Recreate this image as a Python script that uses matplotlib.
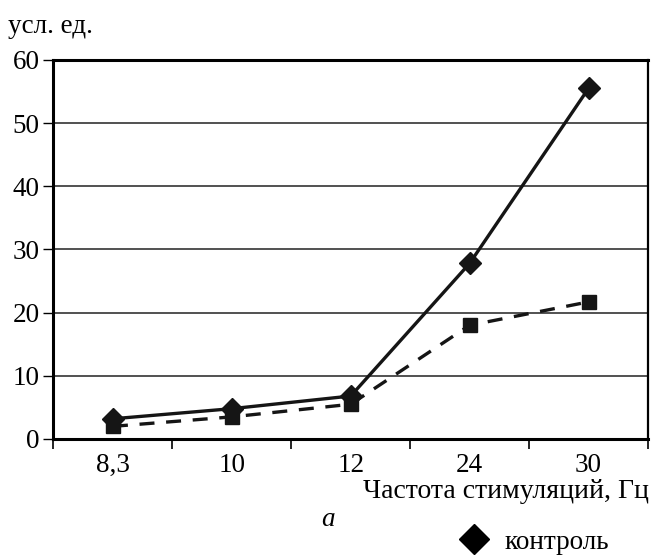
import numpy as np
import matplotlib.pyplot as plt
from matplotlib.lines import Line2D

# data
freqs = ['8,3', '10', '12', '24', '30']
control = [3.2, 4.8, 6.8, 27.8, 55.5]
second = [2.0, 3.5, 5.5, 18.0, 21.7]

plt.rcParams['font.family'] = ['Liberation Serif', 'DejaVu Serif']
fs = 19.5

fig = plt.figure(figsize=(6.53, 5.59), dpi=100)
ax = fig.add_axes([0.0819, 0.2147, 0.9104, 0.678])

x = np.arange(len(freqs))
ax.plot(x, control, '-', color='#151515', lw=2.4, marker='D', ms=11, zorder=4)
ax.plot(x, second, '--', color='#151515', lw=2.4, marker='s', ms=10,
        dashes=(4.5, 3.5), zorder=3)

ax.set_xlim(-0.5, len(freqs) - 0.5)
ax.set_ylim(0, 60)
ax.set_yticks(np.arange(0, 61, 10))
ax.yaxis.grid(True, color='#333333', lw=1.2)
ax.set_axisbelow(True)

ax.set_xticks(x)
ax.set_xticklabels(freqs)
ax.set_xticks(np.arange(-0.5, len(freqs), 1), minor=True)
ax.tick_params(axis='x', which='major', length=0, labelsize=fs, pad=10)
ax.tick_params(axis='x', which='minor', length=7, width=1.2, direction='out')
ax.tick_params(axis='y', length=7, width=1.0, labelsize=fs, pad=3)

for s in ['left', 'bottom', 'top']:
    ax.spines[s].set_linewidth(2.2)
ax.spines['right'].set_linewidth(1.6)

fig.text(0.012, 0.941, 'усл. ед.', fontsize=fs, ha='left', va='baseline')
fig.text(0.993, 0.109, 'Частота стимуляций, Гц', fontsize=fs + 0.5,
         ha='right', va='baseline')
fig.text(0.502, 0.059, 'a', fontsize=fs, style='italic', ha='center', va='baseline')

h = Line2D([], [], color='black', marker='D', ms=15, ls='none')
fig.legend(handles=[h], labels=['контроль'], loc='center left',
           bbox_to_anchor=(0.685, 0.030), frameon=False, fontsize=fs,
           handletextpad=0.1, borderaxespad=0, borderpad=0)

fig.savefig('out.png', dpi=100)
